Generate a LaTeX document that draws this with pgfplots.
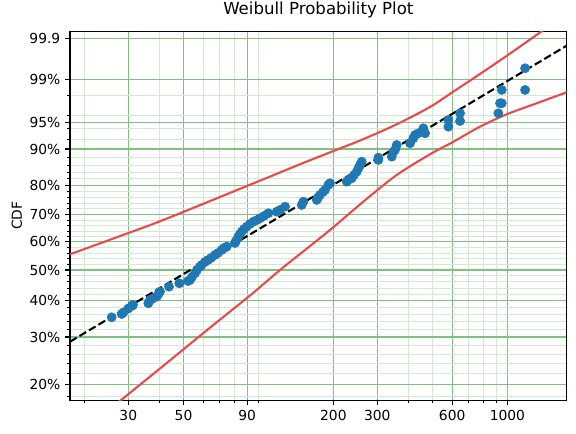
\documentclass[border=0pt]{standalone}
\usepackage{fontspec}
\setmainfont{DejaVu Sans}
\usepackage{pgfplots}
\pgfplotsset{compat=1.18}
\definecolor{tabblue}{RGB}{31,119,180}
\definecolor{cired}{RGB}{236,72,76}
\definecolor{gmaj}{RGB}{128,192,128}
\definecolor{gmin}{RGB}{210,233,210}
\begin{document}
\begin{tikzpicture}
\path[use as bounding box] (-50.4bp,-24.26bp) rectangle (364.3bp,288.2bp);
\begin{axis}[
  at={(0,0)}, anchor=south west,
  scale only axis, width=357.6bp, height=265.7bp,
  xmode=log, xmin=17.5, xmax=1731,
  ymin=-1.6587, ymax=2.0021,
  xtick={30,50,90,200,300,600,1000},
  xticklabels={30,50,90,200,300,600,1000},
  minor xtick={20,40,60,70,80,100,400,500,700,800,900},
  ytick={-1.49994,-1.03093,-0.67173,-0.36651,-0.08742,0.18563,0.47588,0.83403,1.09719,1.52718,1.93264},
  yticklabels={20\%,30\%,40\%,50\%,60\%,70\%,80\%,90\%,95\%,99\%,99.9},
  minor ytick={-1.61721,-1.39248,-1.29305,-1.20032,-1.11323,-0.95278,-0.87822,-0.80678,-0.73806,-0.60747,-0.54504,-0.48421,-0.42476,-0.30929,-0.25293,-0.19726,-0.14214,-0.03295,0.02142,0.07590,0.13057,0.24136,0.29794,0.35566,0.41485,0.53929,0.60572,0.67605,0.75155,0.92655,1.03440,1.16903,1.36405},
  tick pos=left,
  tick align=outside,
  major tick length=3.5bp, minor tick length=2bp,
  major tick style={draw=black, line width=0.8bp},
  minor tick style={draw=black, line width=0.6bp},
  grid=both,
  major grid style={draw=gmaj, line width=0.8bp, solid},
  minor grid style={draw=gmin, line width=0.6bp, solid},
  axis line style={line width=0.8bp},
  tick label style={font=\fontsize{10}{12}\selectfont},
  title={Weibull Probability Plot},
  title style={font=\fontsize{12}{14}\selectfont, at={(axis description cs:0.5,1)}, anchor=base, yshift=6.3bp},
  ylabel={CDF},
  ylabel style={font=\fontsize{10}{12}\selectfont, at={(axis description cs:-0.1068,0.5)}, anchor=center},
]
% upper confidence bound
\addplot[cired, line width=1.5bp, smooth, no markers] table {
x y
17.494 -0.21022
27.78 -0.02966
41.47 0.13006
89.95 0.46736
146.89 0.68264
199.31 0.81260
263.79 0.93165
359.33 1.07948
488.95 1.25109
616.2 1.41478
776.5 1.57847
1026.0 1.78187
1352.6 1.99018
1554 2.09435
};
% lower confidence bound
\addplot[cired, line width=1.5bp, smooth, no markers] table {
x y
25.33 -1.74990
27.78 -1.66557
40.22 -1.34315
65.87 -0.91161
92.49 -0.61895
122.07 -0.36597
146.89 -0.20724
193.86 0.03085
263.79 0.31161
359.33 0.57649
488.95 0.78185
606.5 0.90585
776.5 1.05566
994.2 1.17867
1311.9 1.28780
1731.4 1.39693
};
% data
\addplot[only marks, mark=*, mark size=3.3bp, mark options={draw=tabblue, fill=tabblue}] table {
x y
25.73 -0.83522
28.22 -0.80248
28.70 -0.78760
30.00 -0.74792
30.96 -0.72311
31.33 -0.71319
36.10 -0.69633
36.67 -0.66359
37.35 -0.65367
39.02 -0.63085
39.67 -0.60407
40.22 -0.58125
43.72 -0.53165
48.08 -0.49792
52.12 -0.47510
53.09 -0.46518
54.09 -0.43542
55.61 -0.39871
56.65 -0.36597
58.24 -0.33323
59.16 -0.31637
61.00 -0.28661
62.71 -0.26676
64.48 -0.24692
66.91 -0.21716
68.79 -0.19732
71.18 -0.16756
72.71 -0.14772
74.55 -0.13482
80.50 -0.09811
81.25 -0.07827
83.00 -0.03561
84.31 -0.00883
85.65 0.01399
87.49 0.04077
89.70 0.06359
92.49 0.09038
95.36 0.11320
98.68 0.13006
101.45 0.14693
105.28 0.16974
109.55 0.19653
118.40 0.21240
122.07 0.22927
127.85 0.26201
149.22 0.27887
151.45 0.31161
171.42 0.32847
173.49 0.35327
176.73 0.37808
181.70 0.40784
185.10 0.42768
190.84 0.47728
193.86 0.49415
226.2 0.51002
231.1 0.53185
236.95 0.54375
242.05 0.57649
248.20 0.60923
252.36 0.64593
255.89 0.67570
259.95 0.70843
303.07 0.72530
303.07 0.74812
343.09 0.75804
348.21 0.80466
353.72 0.82451
359.33 0.87411
406.35 0.89097
418.95 0.94058
425.59 0.97331
438.78 0.99018
459.56 1.03978
466.84 0.99018
579.19 1.12212
579.19 1.05566
645.37 1.18859
645.37 1.11220
919.8 1.18859
934.4 1.28780
949.2 1.28780
949.2 1.41974
1177.6 1.41974
1177.6 1.63502
};
% fitted line
\addplot[black, line width=1.5bp, dash pattern=on 5.55bp off 2.4bp, no markers] coordinates {(17.5,-1.0773) (1731,1.8592)};
\end{axis}
\end{tikzpicture}
\end{document}
